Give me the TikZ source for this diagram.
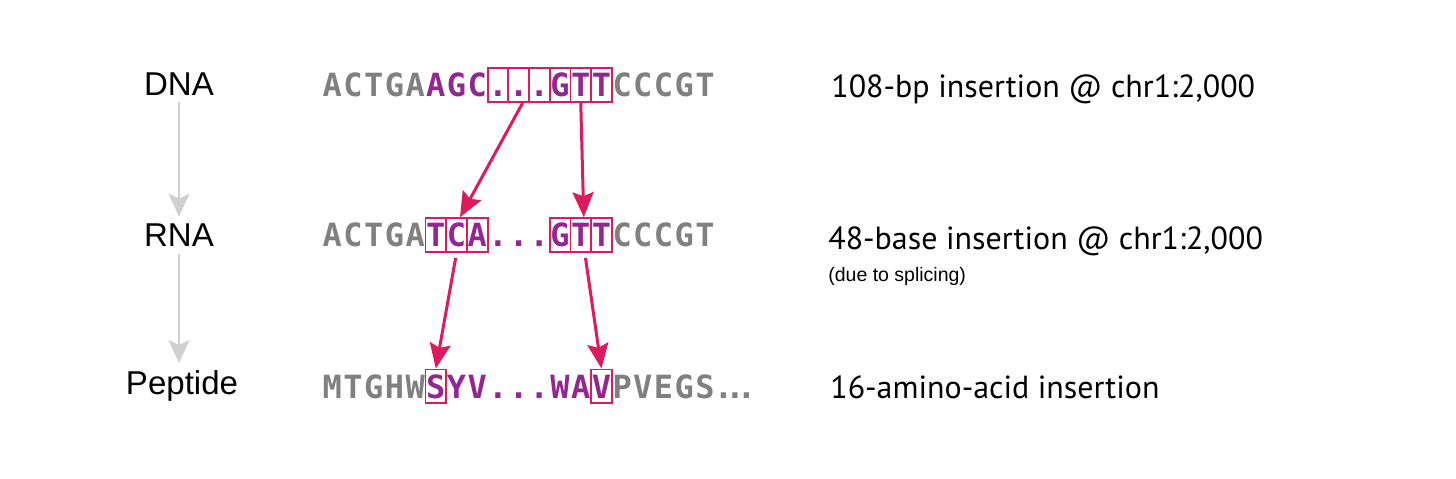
\documentclass[tikz,border=0pt]{standalone}
\usepackage{fontspec}
\setmainfont{Liberation Sans}
\newfontfamily\seqfont{DejaVu Sans Mono}
\newfontfamily\notefont{PT Sans}
\usetikzlibrary{arrows.meta}
\definecolor{stone}{RGB}{128,128,128}
\definecolor{plum}{RGB}{146,39,143}
\definecolor{rose}{RGB}{221,26,92}
\definecolor{mist}{RGB}{208,208,208}
\tikzset{
  letter/.style={inner sep=0pt,minimum width=0.414cm,text height=0.572cm,text depth=0.106cm,
    anchor=base,font=\seqfont\bfseries\fontsize{18.2}{20}\selectfont},
  gr/.style={text=stone},
  pu/.style={text=plum},
  bx/.style={text=plum,draw=rose,line width=0.036cm},
  level/.style={font=\fontsize{18.8}{22}\selectfont,inner sep=0.14cm,anchor=base},
  note/.style={font=\notefont\fontsize{18.2}{21}\selectfont,anchor=base west,inner sep=0pt},
  small note/.style={font=\fontsize{11.1}{13}\selectfont,anchor=base west,inner sep=0pt},
  step arrow/.style={-{Stealth[length=0.46cm,width=0.42cm,inset=0.1cm]},draw=mist,line width=0.04cm},
  map arrow/.style={-{Stealth[length=0.5cm,width=0.42cm,inset=0.08cm]},draw=rose,line width=0.06cm},
}
\begin{document}
\begin{tikzpicture}[x=0.02cm,y=-0.02cm]
  \useasboundingbox (0,0) rectangle (1456,478);
  % levels
  \node[level] (dna) at (179,95) {DNA};
  \node[level] (rna) at (179,246.7) {RNA};
  \node[level] (pep) at (182,394.3) {Peptide};
  \draw[step arrow] (dna.south) -- (rna.north);
  \draw[step arrow] (rna.south) -- (rna.south |- pep.north);
  % sequences
  \foreach \ch/\s [count=\i] in {A/gr,C/gr,T/gr,G/gr,A/gr,A/pu,G/pu,C/pu,./bx,./bx,./bx,G/bx,T/bx,T/bx,C/gr,C/gr,C/gr,G/gr,T/gr}
    \node[letter,\s] (d\i) at ({322+20.7*(\i-0.5)},96.7) {\ch};
  \foreach \ch/\s [count=\i] in {A/gr,C/gr,T/gr,G/gr,A/gr,T/bx,C/bx,A/bx,./pu,./pu,./pu,G/bx,T/bx,T/bx,C/gr,C/gr,C/gr,G/gr,T/gr}
    \node[letter,\s] (r\i) at ({322+20.7*(\i-0.5)},246.7) {\ch};
  \foreach \ch/\s [count=\i] in {M/gr,T/gr,G/gr,H/gr,W/gr,S/bx,Y/pu,V/pu,./pu,./pu,./pu,W/pu,A/pu,V/bx,P/gr,V/gr,E/gr,G/gr,S/gr}
    \node[letter,\s] (p\i) at ({322+20.7*(\i-0.5)},398) {\ch};
  \node[letter,gr,minimum width=0pt] (p20) at (735,398) {.\kern-0.24em.\kern-0.24em.};
  % codon mapping
  \draw[map arrow] ([xshift=0.08cm]d10.south) -- ([xshift=0.07cm]r7.north);
  \draw[map arrow] (d13.south) -- ([xshift=0.06cm]r13.north);
  \draw[map arrow,shorten <=0.1cm] (r7.south) -- (p6.north);
  \draw[map arrow,shorten <=0.1cm] ([xshift=0.08cm]r13.south) -- (p14.north);
  % notes
  \node[note] (dnanote) at (831,97.5) {108-bp insertion @ chr1:2,000};
  \node[note] (rnanote) at (828,249) {48-base insertion @ chr1:2,000};
  \node[small note] (splice) at (828,281) {(due to splicing)};
  \node[note] (pepnote) at (830,398) {16-amino-acid insertion};
\end{tikzpicture}
\end{document}
